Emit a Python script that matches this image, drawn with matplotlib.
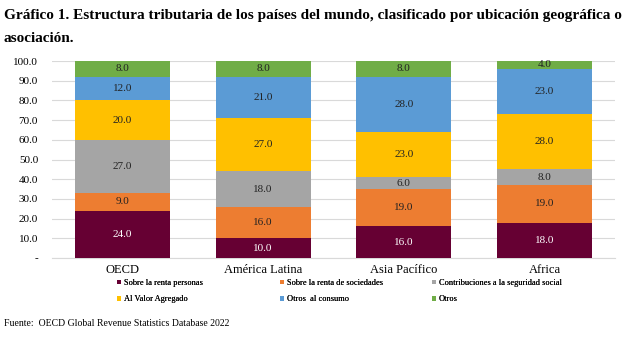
import matplotlib.pyplot as plt
import numpy as np
from matplotlib.patches import Patch

plt.rcParams['font.family'] = ['Liberation Serif', 'DejaVu Serif']

regions = ["OECD", "América Latina", "Asia Pacífico", "Africa"]
series_names = [
    "Sobre la renta personas",
    "Sobre la renta de sociedades",
    "Contribuciones a la seguridad social",
    "Al Valor Agregado",
    "Otros  al consumo",
    "Otros",
]
renta_personas = [24.0, 10.0, 16.0, 18.0]
renta_sociedades = [9.0, 16.0, 19.0, 19.0]
seguridad_social = [27.0, 18.0, 6.0, 8.0]
valor_agregado = [20.0, 27.0, 23.0, 28.0]
otros_consumo = [12.0, 21.0, 28.0, 23.0]
otros = [8.0, 8.0, 8.0, 4.0]
y_ticks = [0, 10, 20, 30, 40, 50, 60, 70, 80, 90, 100]
y_tick_labels = ["-"] + [f"{v:.1f}" for v in y_ticks[1:]]

colors = ["#660033", "#ED7D31", "#A5A5A5", "#FFC000", "#5B9BD5", "#70AD47"]
text_colors = ["white", "#222222", "#222222", "#222222", "#222222", "#222222"]

series = [renta_personas, renta_sociedades, seguridad_social,
          valor_agregado, otros_consumo, otros]

fig = plt.figure(figsize=(6.33, 3.41), dpi=100)
ax = fig.add_axes([0.0821, 0.2434, 0.8895, 0.5777])

x = np.arange(len(regions))
bottom = np.zeros(len(regions))
for vals, col, tcol in zip(series, colors, text_colors):
    vals = np.array(vals)
    ax.bar(x, vals, width=0.675, bottom=bottom, color=col, zorder=3)
    for xi, b, v in zip(x, bottom, vals):
        ax.text(xi, b + v / 2, f"{v:.1f}", ha="center", va="center",
                fontsize=8, color=tcol, zorder=4)
    bottom += vals

ax.set_xlim(-0.5, len(regions) - 0.5)
ax.set_ylim(0, 100)
ax.set_yticks(y_ticks)
ax.set_yticklabels(y_tick_labels, fontsize=8)
ax.set_xticks(x)
ax.set_xticklabels(regions, fontsize=9)
ax.tick_params(axis="both", length=0)
ax.tick_params(axis="y", pad=10)
ax.tick_params(axis="x", pad=4)
ax.grid(axis="y", color="#D9D9D9", linewidth=0.8, zorder=0)
for side in ["top", "right", "left"]:
    ax.spines[side].set_visible(False)
ax.spines["bottom"].set_color("#D9D9D9")

# legend laid out row by row: three columns, two entries each
handles = [Patch(facecolor=c, edgecolor="none") for c in colors]
col_x = [0.1795, 0.4375, 0.6775]
for i, cx in enumerate(col_x):
    leg = fig.legend([handles[i], handles[i + 3]],
                     [series_names[i], series_names[i + 3]],
                     loc="upper left", bbox_to_anchor=(cx, 0.192),
                     ncol=1, frameon=False,
                     prop={"size": 6, "weight": "normal"},
                     handlelength=0.5, handleheight=0.5,
                     handletextpad=0.3, labelspacing=1.0,
                     borderaxespad=0, borderpad=0.4)
    fig.add_artist(leg)

fig.text(0.006, 0.975,
         "Gráfico 1. Estructura tributaria de los países del mundo, clasificado por ubicación geográfica o",
         fontsize=11, fontweight="bold", va="top", ha="left")
fig.text(0.006, 0.905, "asociación.", fontsize=11, fontweight="bold",
         va="top", ha="left")
fig.text(0.006, 0.05, "Fuente:  OECD Global Revenue Statistics Database 2022",
         fontsize=7, va="center", ha="left")

fig.savefig("out.png", dpi=100)
